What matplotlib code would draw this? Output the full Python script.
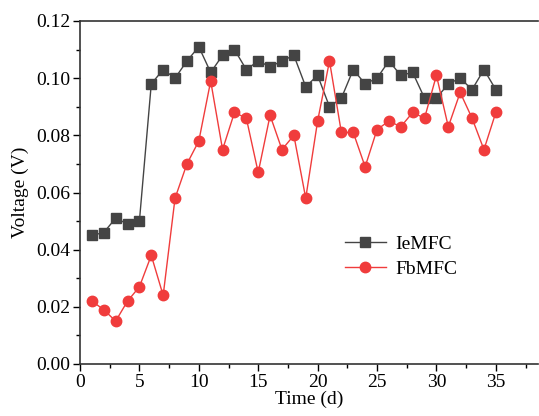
import matplotlib
matplotlib.use("Agg")
import matplotlib.pyplot as plt
from matplotlib.ticker import MultipleLocator

days = list(range(1, 36))
ie_mfc = [0.045, 0.046, 0.051, 0.049, 0.050, 0.098, 0.103, 0.100, 0.106, 0.111,
          0.102, 0.108, 0.110, 0.103, 0.106, 0.104, 0.106, 0.108, 0.097, 0.101,
          0.090, 0.093, 0.103, 0.098, 0.100, 0.106, 0.101, 0.102, 0.093, 0.093,
          0.098, 0.100, 0.096, 0.103, 0.096]
fb_mfc = [0.022, 0.019, 0.015, 0.022, 0.027, 0.038, 0.024, 0.058, 0.070, 0.078,
          0.099, 0.075, 0.088, 0.086, 0.067, 0.087, 0.075, 0.080, 0.058, 0.085,
          0.106, 0.081, 0.081, 0.069, 0.082, 0.085, 0.083, 0.088, 0.086, 0.101,
          0.083, 0.095, 0.086, 0.075, 0.088]

plt.rcParams['font.family'] = ['Liberation Serif', 'DejaVu Serif']
plt.rcParams['font.size'] = 14

W, H = 539, 416
fig = plt.figure(figsize=(W/100, H/100), dpi=100)
ax = fig.add_axes([80/W, 1-364/H, (538-80)/W, (364-21)/H])

ax.plot(days, ie_mfc, color='#444444', marker='s', markersize=6.5, linewidth=1.0,
        label='IeMFC', zorder=3)
ax.plot(days, fb_mfc, color='#f03c3c', marker='o', markersize=7.5, linewidth=1.0,
        label='FbMFC', zorder=3)

ax.set_xlim(0, 38.55)
ax.set_ylim(0, 0.12)
ax.xaxis.set_major_locator(MultipleLocator(5))
ax.xaxis.set_minor_locator(MultipleLocator(2.5))
ax.yaxis.set_major_locator(MultipleLocator(0.02))
ax.yaxis.set_minor_locator(MultipleLocator(0.01))
ax.yaxis.set_major_formatter(plt.FormatStrFormatter('%.2f'))
ax.tick_params(which='both', direction='out', top=False, right=False)
ax.tick_params(which='major', length=5, width=1, pad=2)
ax.tick_params(which='minor', length=3, width=1)
for s in ax.spines.values():
    s.set_linewidth(1.2)
    s.set_color('#333333')
ax.spines['right'].set_visible(False)

ax.set_xlabel('Time (d)', labelpad=0)
ax.set_ylabel('Voltage (V)', labelpad=5)

ax.legend(loc='upper left', bbox_to_anchor=(0.54, 0.427), frameon=False,
          handlelength=2.1, fontsize=14, labelspacing=0.4, handletextpad=0.5)

fig.savefig('out.png', dpi=100)
